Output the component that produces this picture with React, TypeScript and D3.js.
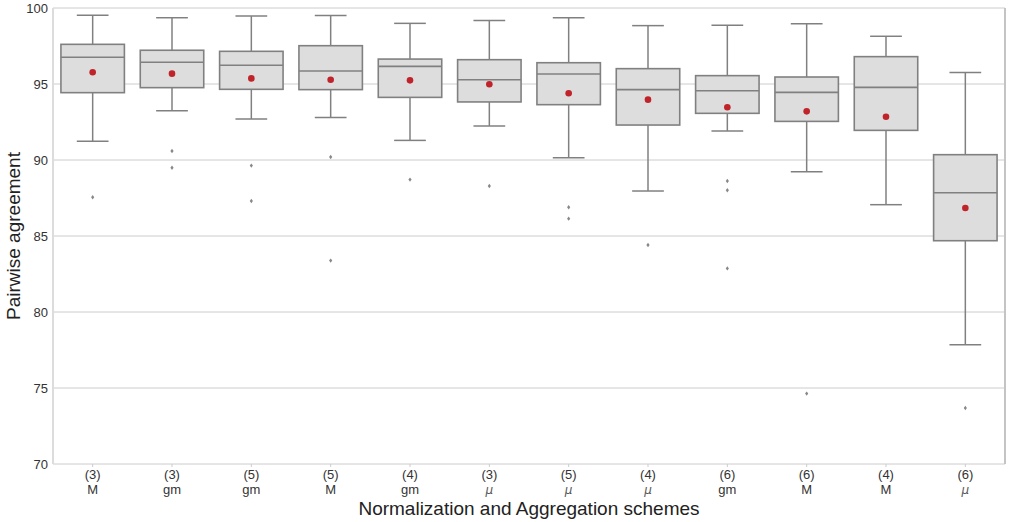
import React from "react";
import * as d3 from "d3";

// scheme labels, two lines each
const groupNums = ["(3)", "(3)", "(5)", "(5)", "(4)", "(3)", "(5)", "(4)", "(6)", "(6)", "(4)", "(6)"];
const groupAggs = ["M", "gm", "gm", "M", "gm", "μ", "μ", "μ", "gm", "M", "M", "μ"];

// box statistics
const whiskHigh = [99.52, 99.36, 99.47, 99.5, 98.99, 99.17, 99.36, 98.84, 98.86, 98.97, 98.14, 95.75];
const q3 = [97.61, 97.22, 97.15, 97.52, 96.64, 96.6, 96.4, 96.01, 95.55, 95.46, 96.8, 90.35];
const median = [96.76, 96.43, 96.23, 95.86, 96.16, 95.28, 95.66, 94.63, 94.56, 94.45, 94.78, 87.85];
const q1 = [94.43, 94.76, 94.65, 94.63, 94.12, 93.82, 93.64, 92.3, 93.07, 92.54, 91.95, 84.69];
const whiskLow = [91.23, 93.24, 92.7, 92.79, 91.29, 92.24, 90.15, 87.96, 91.91, 89.23, 87.06, 77.85];
const means = [95.77, 95.68, 95.37, 95.28, 95.24, 94.98, 94.39, 93.97, 93.47, 93.2, 92.85, 86.84];
const outliers = [
  [87.55],
  [90.59, 89.49],
  [89.63, 87.3],
  [90.2, 83.38],
  [88.71],
  [88.29],
  [86.89, 86.14],
  [84.41],
  [88.62, 88.01, 82.87],
  [74.63],
  [],
  [73.68],
];
const yTicks = [70, 75, 80, 85, 90, 95, 100];

const W = 1010;
const H = 522;
const left = 53;
const right = 1005;
const top = 8;
const bottom = 464;
const font = "'Liberation Sans', Arial, sans-serif";
const lineCol = "#808080";

export default function App() {
  const x = d3
    .scaleBand<number>()
    .domain(d3.range(groupNums.length))
    .range([left, right])
    .paddingInner(0)
    .paddingOuter(0);
  const y = d3.scaleLinear().domain([70, 100]).range([bottom, top]);
  const bw = x.bandwidth() * 0.8;
  const cap = bw / 2;

  return (
    <svg
      width={W}
      height={H}
      style={{ position: "absolute", left: 0, top: 0, background: "#fff" }}
      fontFamily={font}
    >
      {/* grid */}
      {yTicks.map((t) => (
        <g key={t}>
          <line x1={left} x2={right} y1={y(t)} y2={y(t)} stroke="#cccccc" strokeWidth={1} />
          <text x={left - 5} y={y(t)} dy="0.35em" textAnchor="end" fontSize={13} fill="#333">
            {t}
          </text>
        </g>
      ))}
      {/* spines */}
      <line x1={left} x2={left} y1={top} y2={bottom} stroke="#dcdcdc" strokeWidth={2} />
      <line x1={right} x2={right} y1={top} y2={bottom} stroke="#c4c4c4" strokeWidth={2} />

      {groupNums.map((g, i) => {
        const cx = x(i)! + x.bandwidth() / 2;
        return (
          <g key={i}>
            <line x1={cx} x2={cx} y1={bottom} y2={bottom + 3} stroke="#cccccc" />
            <line x1={cx} x2={cx} y1={y(whiskHigh[i])} y2={y(q3[i])} stroke={lineCol} strokeWidth={1.5} />
            <line x1={cx} x2={cx} y1={y(q1[i])} y2={y(whiskLow[i])} stroke={lineCol} strokeWidth={1.5} />
            <line x1={cx - cap / 2} x2={cx + cap / 2} y1={y(whiskHigh[i])} y2={y(whiskHigh[i])} stroke={lineCol} strokeWidth={1.5} />
            <line x1={cx - cap / 2} x2={cx + cap / 2} y1={y(whiskLow[i])} y2={y(whiskLow[i])} stroke={lineCol} strokeWidth={1.5} />
            <rect
              x={cx - bw / 2}
              y={y(q3[i])}
              width={bw}
              height={y(q1[i]) - y(q3[i])}
              fill="#dddddd"
              stroke={lineCol}
              strokeWidth={1.6}
            />
            <line x1={cx - bw / 2} x2={cx + bw / 2} y1={y(median[i])} y2={y(median[i])} stroke={lineCol} strokeWidth={1.6} />
            {outliers[i].map((o, j) => (
              <path
                key={j}
                d={`M${cx},${y(o) - 2.2}L${cx + 1.6},${y(o)}L${cx},${y(o) + 2.2}L${cx - 1.6},${y(o)}Z`}
                fill="#888"
              />
            ))}
            <circle cx={cx} cy={y(means[i])} r={3.3} fill="#c0232a" />
            <text x={cx} y={bottom + 15} textAnchor="middle" fontSize={13} fill="#333">
              {g}
            </text>
            <text
              x={cx}
              y={bottom + 30}
              textAnchor="middle"
              fontSize={groupAggs[i] === "μ" ? 12 : 13}
              fontStyle={groupAggs[i] === "μ" ? "italic" : "normal"}
              fill={groupAggs[i] === "μ" ? "#555" : "#333"}
              fontFamily={groupAggs[i] === "μ" ? "'DejaVu Sans', sans-serif" : font}
            >
              {groupAggs[i]}
            </text>
          </g>
        );
      })}

      <text x={(left + right) / 2} y={515} textAnchor="middle" fontSize={19} fill="#222">
        Normalization and Aggregation schemes
      </text>
      <text
        transform={`translate(20,${(top + bottom) / 2}) rotate(-90)`}
        textAnchor="middle"
        fontSize={19}
        fill="#222"
      >
        Pairwise agreement
      </text>
    </svg>
  );
}
